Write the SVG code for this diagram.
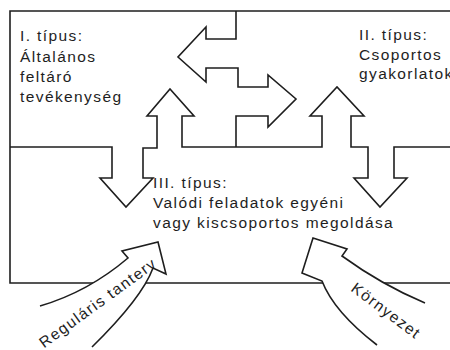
<svg xmlns="http://www.w3.org/2000/svg" width="450" height="350" viewBox="0 0 450 350">
<style>
.ln{fill:none;stroke:#1e1e1e;stroke-width:1.6;stroke-linejoin:miter}
.ar{fill:#fff;stroke:#1e1e1e;stroke-width:1.6;stroke-linejoin:miter}
.t{font-family:"Liberation Sans",Arial,sans-serif;font-size:15.5px;fill:#1e1e1e;letter-spacing:1.4px}
</style>
<rect width="450" height="350" fill="#fff"/>
<g id="frame">
<path class="ln" d="M450,11 H10 V283 H450"/>
</g>
<g id="connectors">
<path class="ln" d="M10,147 H112 V178 H100 L126,207 L153,178 H143 V148 H157 V116 H147 L170,89 L194,116 H182 V147 H322 V116 H310 L337,87 L364,116 H351 V147 H368 V178 H354 L380,207 L407,178 H394 V147 H450"/>
<path class="ln" d="M236,147 V116 H268 V127 L296,99 L268,75 V87 H238 V68 H206 V82 L178,57 L206,27 V39 H236 V11"/>
</g>
<g id="regularis">
<path fill="#fff" stroke="none" d="M40,306 Q88,292 128,258 L122,251 L158,242 L166,274 L153,268 Q142,298 92,347 Z"/>
<path class="ln" d="M40,306 Q88,292 128,258 L122,251 L158,242 L166,274 L153,268 Q142,298 92,347"/>
<text class="t" transform="translate(101,307) rotate(-36)" text-anchor="middle">Reguláris tanterv</text>
</g>
<g id="kornyezet">
<path fill="#fff" stroke="none" d="M425,303 Q382,285 342,256 L347,249 L313,238 L302,273 L322,281 Q334,312 377,345 Z"/>
<path class="ln" d="M425,303 Q382,285 342,256 L347,249 L313,238 L302,273 L322,281 Q334,312 377,345"/>
<text class="t" transform="translate(383,315) rotate(37)" text-anchor="middle">Környezet</text>
</g>
<g id="tipus1">
<text class="t" x="20" y="41">I. típus:</text>
<text class="t" x="20" y="62">Általános</text>
<text class="t" x="20" y="82">feltáró</text>
<text class="t" x="20" y="102">tevékenység</text>
</g>
<g id="tipus2">
<text class="t" x="359" y="40">II. típus:</text>
<text class="t" x="359" y="60">Csoportos</text>
<text class="t" x="359" y="79">gyakorlatok</text>
</g>
<g id="tipus3">
<text class="t" x="153" y="188">III. típus:</text>
<text class="t" x="153" y="208">Valódi feladatok egyéni</text>
<text class="t" x="153" y="228">vagy kiscsoportos megoldása</text>
</g>
</svg>
